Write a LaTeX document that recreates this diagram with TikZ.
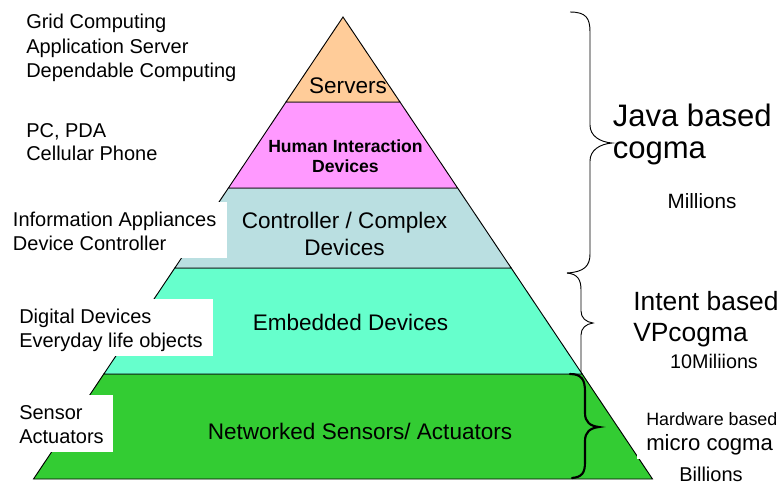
\documentclass[tikz,border=0pt]{standalone}
\usepackage{fontspec}
\setmainfont{Liberation Sans}

\definecolor{srvfill}{HTML}{FFCC99}
\definecolor{humfill}{HTML}{FF99FF}
\definecolor{ctlfill}{HTML}{BADFE1}
\definecolor{embfill}{HTML}{66FFCC}
\definecolor{netfill}{HTML}{33CC33}

\tikzset{
  layer/.style={draw=black, line width=0.7pt, line join=miter},
  sidelbl/.style={font=\fontsize{15}{18}\selectfont, inner sep=0pt, anchor=base west},
  midlbl/.style={font=\fontsize{16.9}{20}\selectfont, inner sep=0pt, anchor=base},
  humlbl/.style={font=\bfseries\fontsize{13.2}{15}\selectfont, inner sep=0pt, anchor=base},
  bracethin/.style={draw=black, line width=0.7pt},
  bracethick/.style={draw=black, line width=1.6pt, line cap=round},
  rtext/.style={inner sep=0pt, anchor=base west},
  rsmall/.style={inner sep=0pt, anchor=base},
}

\begin{document}
\begin{tikzpicture}[x=0.75pt, y=-0.75pt]
\useasboundingbox (0,0) rectangle (784,487);

% pyramid layers, apex (343,17)
\coordinate (apex) at (343,17);
\path[layer, fill=netfill] (103.8,374) -- (582.2,374) -- (652.5,479) -- (33.5,479) -- cycle;
\path[layer, fill=embfill] (174.8,268) -- (511.2,268) -- (582.2,374) -- (103.8,374) -- cycle;
\path[layer, fill=ctlfill] (228.4,188) -- (457.6,188) -- (511.2,268) -- (174.8,268) -- cycle;
\path[layer, fill=humfill] (286,102) -- (400,102) -- (457.6,188) -- (228.4,188) -- cycle;
\path[layer, fill=srvfill] (apex) -- (400,102) -- (286,102) -- cycle;

% white panels behind the side captions
\fill[white] (0,202) rectangle (227,258);
\fill[white] (0,299) rectangle (213,356);
\fill[white] (0,395) rectangle (113,452);
\fill[white] (637,405) rectangle (784,459);

% layer captions
\node[midlbl] (servers) at (348,93.3) {Servers};
\node[humlbl] (human1) at (345.5,152.7) {Human Interaction};
\node[humlbl] (human2) at (345.5,172.7) {Devices};
\node[midlbl] (ctl1) at (344.5,228.3) {Controller / Complex};
\node[midlbl] (ctl2) at (344.5,255) {Devices};
\node[midlbl] (emb) at (350.5,330) {Embedded Devices};
\node[midlbl] (net) at (360,439) {Networked Sensors/ Actuators};

% side captions
\node[sidelbl] (grid) at (26,28.5) {Grid Computing};
\node[sidelbl] (appsrv) at (26,53) {Application Server};
\node[sidelbl] (depend) at (26,77.5) {Dependable Computing};
\node[sidelbl] (pcpda) at (26,137) {PC, PDA};
\node[sidelbl] (cell) at (26,160.5) {Cellular Phone};
\node[sidelbl] (info) at (12.7,226.7) {Information Appliances};
\node[sidelbl] (devctl) at (12.7,250.7) {Device Controller};
\node[sidelbl] (digital) at (19,323) {Digital Devices};
\node[sidelbl] (everyday) at (19,347) {Everyday life objects};
\node[sidelbl] (sensor) at (19,419) {Sensor};
\node[sidelbl] (actu) at (19,443) {Actuators};

% braces
\draw[bracethin] (570,12) .. controls (586,12) and (590,18) .. (590,32)
  -- (590,125) .. controls (590,136) and (600,142) .. (612,143)
  .. controls (600,144) and (590,150) .. (590,161)
  -- (590,254) .. controls (590,266) and (584,272) .. (567,273);
\draw[bracethin] (567,273) .. controls (578,274) and (581,280) .. (581,290)
  -- (581,311) .. controls (581,318) and (586,322) .. (593,323)
  .. controls (586,324) and (581,328) .. (581,335) -- (581,372);
\draw[bracethick] (570,374) .. controls (582,374) and (585,380) .. (585,392)
  -- (585,413) .. controls (585,422) and (590,426) .. (599,427)
  .. controls (590,428) and (585,432) .. (585,441)
  -- (585,462) .. controls (585,473) and (582,477) .. (572,478);

% right-hand captions
\node[rtext, font=\fontsize{23.3}{27}\selectfont] (java1) at (612.5,126.7) {Java based};
\node[rtext, font=\fontsize{23.3}{27}\selectfont] (java2) at (612.5,158.3) {cogma};
\node[rsmall, font=\fontsize{15.5}{18}\selectfont] (millions) at (702,208.3) {Millions};
\node[rtext, font=\fontsize{19.8}{24}\selectfont] (intent1) at (633,310) {Intent based};
\node[rtext, font=\fontsize{19.8}{24}\selectfont] (intent2) at (633,341.7) {VPcogma};
\node[rsmall, font=\fontsize{14.8}{18}\selectfont] (tenm) at (714,368.3) {10Miliions};
\node[rtext, font=\fontsize{13.4}{16}\selectfont] (hw1) at (646,425) {Hardware based};
\node[rtext, font=\fontsize{16.6}{20}\selectfont] (hw2) at (646,450) {micro cogma};
\node[rsmall, font=\fontsize{15}{18}\selectfont] (billions) at (711,481.7) {Billions};
\end{tikzpicture}
\end{document}
